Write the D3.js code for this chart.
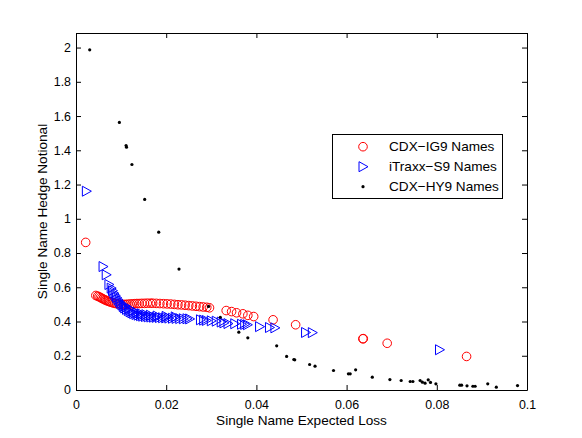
<!DOCTYPE html>
<html>
<head>
<meta charset="utf-8">
<script src="https://cdn.jsdelivr.net/npm/d3@7"></script>
<style>
  body { margin: 0; background: #fff; }
  svg { display: block; font-family: "Liberation Sans", Arial, Helvetica, sans-serif; }
  .axis text { font-size: 12.4px; fill: #000; }
  .axis path, .axis line { stroke: #000; stroke-width: 1; }
</style>
</head>
<body>
<svg id="chart" width="582" height="438"></svg>
<script>
// ---- Data ----
const seriesNames = ["CDX\u2212IG9 Names", "iTraxx\u2212S9 Names", "CDX\u2212HY9 Names"];

const ig9Loss = [0.00215,0.0044,0.0048,0.0051,0.0054,0.0057,0.0060,0.0063,0.0066,0.0069,0.0072,0.0075,0.0078,0.0082,0.0086,0.0090,0.0095,0.0100,0.0105,0.0110,0.0115,0.0120,0.0125,0.0130,0.0135,0.0140,0.0146,0.0152,0.0158,0.0165,0.0170,0.0178,0.0186,0.0194,0.0202,0.0210,0.0218,0.0226,0.0234,0.0242,0.0250,0.0258,0.0266,0.0274,0.0282,0.0290,0.0296,0.0333,0.0345,0.0356,0.0370,0.0381,0.0394,0.0437,0.0487,0.0636,0.0637,0.0690,0.0866];
const ig9Notional = [0.862,0.552,0.548,0.545,0.540,0.536,0.532,0.528,0.524,0.521,0.518,0.515,0.512,0.509,0.506,0.504,0.502,0.500,0.500,0.500,0.501,0.502,0.503,0.504,0.505,0.505,0.506,0.506,0.507,0.507,0.507,0.506,0.505,0.504,0.503,0.502,0.500,0.498,0.497,0.495,0.493,0.491,0.489,0.487,0.485,0.483,0.480,0.464,0.458,0.451,0.445,0.436,0.429,0.410,0.381,0.299,0.300,0.273,0.196];

const s9Loss = [0.0023,0.0060,0.0067,0.0073,0.0078,0.0081,0.0084,0.0087,0.0090,0.0093,0.0096,0.0099,0.0102,0.0105,0.0108,0.0112,0.0116,0.0120,0.0124,0.0128,0.0133,0.0138,0.0143,0.0148,0.0154,0.0160,0.0166,0.0172,0.0178,0.0185,0.0192,0.0199,0.0206,0.0214,0.0222,0.0230,0.0238,0.0246,0.0252,0.0110,0.0118,0.0126,0.0135,0.0145,0.0155,0.0165,0.0180,0.0200,0.0220,0.0276,0.0283,0.0289,0.0300,0.0311,0.0322,0.0328,0.0337,0.0352,0.0367,0.0374,0.0380,0.0407,0.0429,0.0441,0.0509,0.0524,0.0806];
const s9Notional = [1.161,0.721,0.673,0.616,0.595,0.580,0.565,0.552,0.540,0.528,0.517,0.506,0.496,0.487,0.479,0.471,0.464,0.457,0.451,0.446,0.441,0.437,0.434,0.431,0.429,0.427,0.426,0.425,0.424,0.423,0.422,0.421,0.420,0.419,0.418,0.417,0.416,0.416,0.415,0.490,0.475,0.462,0.452,0.445,0.440,0.437,0.432,0.430,0.427,0.410,0.408,0.406,0.404,0.402,0.397,0.392,0.388,0.387,0.384,0.383,0.381,0.370,0.365,0.363,0.336,0.335,0.235];

const hy9Loss = [0.00304,0.00962,0.0111,0.0112,0.0124,0.01523,0.01834,0.02284,0.0294,0.0320,0.0361,0.0381,0.0445,0.0467,0.0483,0.0485,0.0518,0.0530,0.0571,0.0604,0.0608,0.0620,0.0657,0.0696,0.0721,0.0741,0.0747,0.0763,0.0768,0.0774,0.0781,0.0786,0.0798,0.0851,0.0855,0.0867,0.0880,0.0885,0.0913,0.0932,0.0979];
const hy9Notional = [1.987,1.5625,1.428,1.418,1.317,1.113,0.922,0.706,0.488,0.425,0.338,0.305,0.258,0.196,0.178,0.176,0.149,0.139,0.114,0.0946,0.0946,0.118,0.0748,0.061,0.0555,0.0497,0.0497,0.0555,0.0456,0.040,0.0596,0.044,0.036,0.028,0.028,0.0245,0.022,0.022,0.036,0.0164,0.026];

const xTicks = [0, 0.02, 0.04, 0.06, 0.08, 0.1];
const xTickLabels = ["0", "0.02", "0.04", "0.06", "0.08", "0.1"];
const yTicks = [0, 0.2, 0.4, 0.6, 0.8, 1, 1.2, 1.4, 1.6, 1.8, 2];
const yTickLabels = ["0", "0.2", "0.4", "0.6", "0.8", "1", "1.2", "1.4", "1.6", "1.8", "2"];

// ---- Layout ----
const svg = d3.select("#chart");
const pL = 76, pR = 527, pT = 33, pB = 390;

const x = d3.scaleLinear().domain([0, 0.1]).range([pL, pR]);
const y = d3.scaleLinear().domain([0, 2.085]).range([pB, pT]);

// Axes (MATLAB style: inward ticks, box)
svg.append("g").attr("class", "axis").attr("transform", `translate(0,${pB})`)
  .call(d3.axisBottom(x).tickValues(xTicks).tickFormat((d, i) => xTickLabels[i]).tickSizeInner(-5).tickSizeOuter(0).tickPadding(10));
svg.append("g").attr("class", "axis").attr("transform", `translate(0,${pT})`)
  .call(d3.axisTop(x).tickValues(xTicks).tickFormat("").tickSizeInner(-5).tickSizeOuter(0));
svg.append("g").attr("class", "axis").attr("transform", `translate(${pL},0)`)
  .call(d3.axisLeft(y).tickValues(yTicks).tickFormat((d, i) => yTickLabels[i]).tickSizeInner(-5).tickSizeOuter(0).tickPadding(5));
svg.append("g").attr("class", "axis").attr("transform", `translate(${pR},0)`)
  .call(d3.axisRight(y).tickValues(yTicks).tickFormat("").tickSizeInner(-5).tickSizeOuter(0));

// Axis labels
svg.append("text").attr("x", (pL + pR) / 2).attr("y", 425)
  .attr("text-anchor", "middle").style("font-size", "13.6px").text("Single Name Expected Loss");
svg.append("text").attr("transform", `translate(47,${(pT + pB) / 2}) rotate(-90)`)
  .attr("text-anchor", "middle").style("font-size", "13.6px").text("Single Name Hedge Notional");

// Clip
svg.append("clipPath").attr("id", "clip").append("rect")
  .attr("x", pL).attr("y", pT).attr("width", pR - pL).attr("height", pB - pT);
const plot = svg.append("g").attr("clip-path", "url(#clip)");

// Series 1: red circles
const ig9 = ig9Loss.map((v, i) => [v, ig9Notional[i]]);
plot.append("g").selectAll("circle").data(ig9).join("circle")
  .attr("cx", d => x(d[0])).attr("cy", d => y(d[1])).attr("r", 4.3)
  .attr("fill", "none").attr("stroke", "#ff0000").attr("stroke-width", 1);

// Series 2: blue right-pointing triangles
const tri = (cx, cy) => `M${cx - 4},${cy - 5}L${cx + 5},${cy}L${cx - 4},${cy + 5}Z`;
const s9 = s9Loss.map((v, i) => [v, s9Notional[i]]);
plot.append("g").selectAll("path").data(s9).join("path")
  .attr("d", d => tri(x(d[0]), y(d[1])))
  .attr("fill", "none").attr("stroke", "#0000ff").attr("stroke-width", 1);

// Series 3: black dots
const hy9 = hy9Loss.map((v, i) => [v, hy9Notional[i]]);
plot.append("g").selectAll("circle").data(hy9).join("circle")
  .attr("cx", d => x(d[0])).attr("cy", d => y(d[1])).attr("r", 1.6)
  .attr("fill", "#000");

// Legend
const lg = svg.append("g");
lg.append("rect").attr("x", 332.5).attr("y", 134.5).attr("width", 170).attr("height", 64)
  .attr("fill", "#fff").attr("stroke", "#000").attr("stroke-width", 1);
const rows = [146.7, 166.7, 186.7];
const mx = 363;
lg.append("circle").attr("cx", mx).attr("cy", rows[0]).attr("r", 4.3)
  .attr("fill", "none").attr("stroke", "#ff0000");
lg.append("path").attr("d", tri(mx, rows[1])).attr("fill", "none").attr("stroke", "#0000ff");
lg.append("circle").attr("cx", mx).attr("cy", rows[2]).attr("r", 1.6).attr("fill", "#000");
seriesNames.forEach((n, i) => {
  lg.append("text").attr("x", 389).attr("y", rows[i]).attr("dy", "0.35em")
    .style("font-size", "13.6px").text(n);
});
</script>
</body>
</html>
